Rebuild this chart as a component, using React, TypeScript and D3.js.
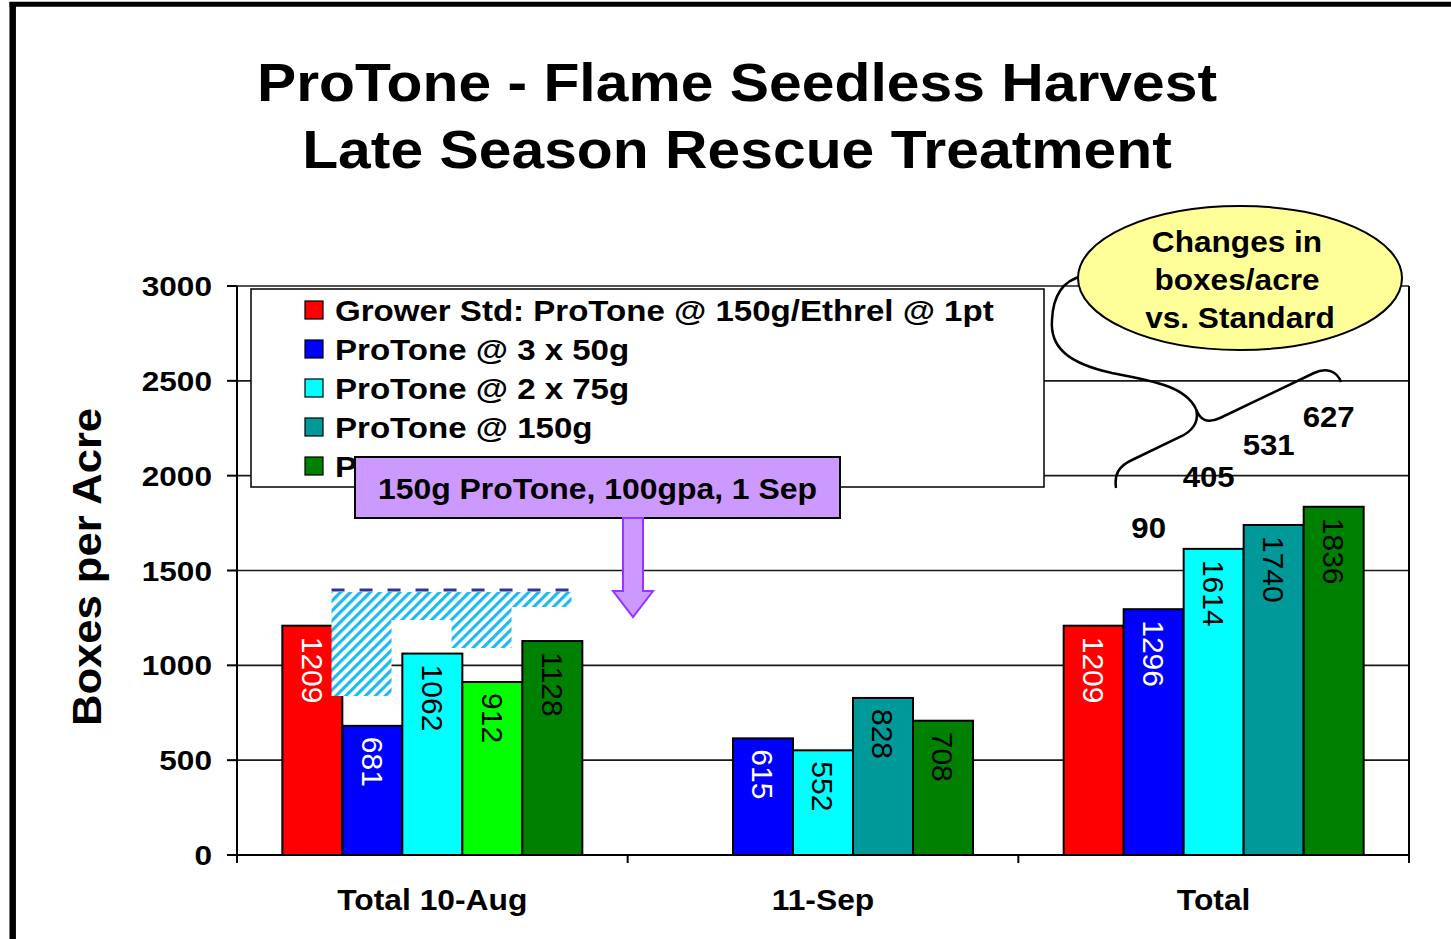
import * as d3 from "d3";

const categories = ["Total 10-Aug", "11-Sep", "Total"];
const seriesNames = [
  "Grower Std: ProTone @ 150g/Ethrel @ 1pt",
  "ProTone @ 3 x 50g",
  "ProTone @ 2 x 75g",
  "ProTone @ 150g",
  "ProTone @ 150 + 75g",
];
const seriesColors = ["#FF0000", "#0000FF", "#00FFFF", "#009999", "#008000"];
const labelColors = ["#FFFFFF", "#FFFFFF", "#000000", "#000000", "#000000"];

const growerStd = [1209, null, 1209];
const protone3x50 = [681, 615, 1296];
const protone2x75 = [1062, 552, 1614];
const protone150 = [912, 828, 1740];
const protone150plus75 = [1128, 708, 1836];
const seriesValues = [growerStd, protone3x50, protone2x75, protone150, protone150plus75];

// one point of the 150g series is coloured differently in the original
const pointColorOverride: Record<string, string> = { "3-0": "#00FF00" };

const yTicks = [0, 500, 1000, 1500, 2000, 2500, 3000];

// differences vs standard, shown above the "Total" group
const diffLabels = ["90", "405", "531", "627"];
const diffLabelY = [1671, 1940, 2109, 2257];

// hatched overlay in the first group (bottom value of each column)
const hatchTop = 1387;
const hatchDash = 1397;
const hatchBottoms = [838, 1239, 1091, 1308];

const FONT = "'Liberation Sans', Arial, Helvetica, sans-serif";

function SText(props: {
  x: number;
  y: number;
  k?: number;
  size: number;
  anchor?: string;
  weight?: string;
  fill?: string;
  children: string;
}) {
  const { x, y, k = 1.1, size, anchor = "middle", weight = "bold", fill = "#000" } = props;
  return (
    <text
      transform={`translate(${x},${y}) scale(${k},1)`}
      textAnchor={anchor}
      fontSize={size}
      fontWeight={weight}
      fill={fill}
    >
      {props.children}
    </text>
  );
}

export default function App() {
  const width = 1451;
  const height = 939;
  const plot = { left: 237, right: 1409, top: 286, bottom: 855 };

  const x0 = d3.scaleBand<string>().domain(categories).range([plot.left, plot.right]);
  const groupW = 300;
  const x1 = d3.scaleBand<string>().domain(seriesNames).range([0, groupW]);
  const y = d3.scaleLinear().domain([0, 3000]).range([plot.bottom, plot.top]);
  const bw = x1.bandwidth();
  const barX = (ci: number, si: number) =>
    (x0(categories[ci]) ?? 0) + (x0.bandwidth() - groupW) / 2 + (x1(seriesNames[si]) ?? 0);

  const bars: { key: string; x: number; y: number; h: number; v: number; fill: string; lc: string }[] = [];
  seriesValues.forEach((vals, si) => {
    vals.forEach((v, ci) => {
      if (v == null) return;
      bars.push({
        key: `${si}-${ci}`,
        x: barX(ci, si),
        y: y(v),
        h: y(0) - y(v),
        v,
        fill: pointColorOverride[`${si}-${ci}`] ?? seriesColors[si],
        lc: labelColors[si],
      });
    });
  });

  // hatch outline (step shape) over group 1, shifted slightly left of the bar slots
  const shift = bw * 0.18;
  const hx = hatchBottoms.map((_, j) => barX(0, j + 1) - shift);
  let hatchPath = `M${hx[0]},${y(hatchTop)} L${hx[3] + bw},${y(hatchTop)}`;
  for (let j = 3; j >= 0; j--) {
    hatchPath += ` L${hx[j] + bw},${y(hatchBottoms[j])} L${hx[j]},${y(hatchBottoms[j])}`;
  }
  hatchPath += " Z";

  const legend = { x: 251, y: 289, w: 793, h: 198, step: 39 };
  const callout = { x: 355, y: 457, w: 485, h: 61 };
  const arrowX = 633;
  const ellipse = { cx: 1240, cy: 278, rx: 162, ry: 72 };

  return (
    <svg
      width={width}
      height={height}
      style={{ position: "absolute", left: 0, top: 0, background: "#fff" }}
      fontFamily={FONT}
    >
      <defs>
        <pattern
          id="hatch"
          width={7}
          height={7}
          patternUnits="userSpaceOnUse"
          patternTransform="rotate(45)"
        >
          <rect width={7} height={7} fill="#fff" />
          <rect width={3.2} height={7} fill="#1EBBEE" />
        </pattern>
      </defs>

      {/* slide frame */}
      <line x1={12.7} y1={2} x2={12.7} y2={height} stroke="#000" strokeWidth={6.5} />
      <line x1={9.5} y1={4.2} x2={width} y2={4.2} stroke="#000" strokeWidth={5} />

      {/* title */}
      <SText x={737} y={101} size={53} k={1.11}>
        ProTone - Flame Seedless Harvest
      </SText>
      <SText x={737} y={168} size={53} k={1.11}>
        Late Season Rescue Treatment
      </SText>

      {/* gridlines */}
      {yTicks.map((t) => (
        <line
          key={t}
          x1={plot.left}
          x2={plot.right}
          y1={y(t)}
          y2={y(t)}
          stroke="#1a1a1a"
          strokeWidth={1.6}
        />
      ))}
      <line x1={plot.right} x2={plot.right} y1={plot.top} y2={plot.bottom} stroke="#000" strokeWidth={2} />

      {/* bars */}
      {bars.map((b) => (
        <rect
          key={b.key}
          x={b.x}
          y={b.y}
          width={bw}
          height={b.h}
          fill={b.fill}
          stroke="#000"
          strokeWidth={2}
        />
      ))}
      {bars.map((b) => (
        <text
          key={"l" + b.key}
          transform={`translate(${b.x + bw / 2 - 10.7},${b.y + 11}) rotate(90)`}
          fontSize={30}
          fill={b.lc}
        >
          {String(b.v)}
        </text>
      ))}

      {/* hatched overlay */}
      <path d={hatchPath} fill="url(#hatch)" />
      <line
        x1={hx[0]}
        x2={hx[3] + bw}
        y1={y(hatchDash)}
        y2={y(hatchDash)}
        stroke="#333399"
        strokeWidth={3}
        strokeDasharray="13 15"
      />

      {/* axes */}
      <line x1={plot.left} x2={plot.left} y1={plot.top} y2={plot.bottom + 8} stroke="#000" strokeWidth={2} />
      <line x1={plot.left} x2={plot.right} y1={plot.bottom} y2={plot.bottom} stroke="#000" strokeWidth={2} />
      {yTicks.map((t) => (
        <g key={"t" + t}>
          <line x1={plot.left - 10} x2={plot.left} y1={y(t)} y2={y(t)} stroke="#000" strokeWidth={2} />
          <SText x={212} y={y(t) + 10} size={27} k={1.17} anchor="end">
            {String(t)}
          </SText>
        </g>
      ))}
      {categories.map((c) => (
        <g key={c}>
          <line
            x1={(x0(c) ?? 0) + x0.bandwidth()}
            x2={(x0(c) ?? 0) + x0.bandwidth()}
            y1={plot.bottom}
            y2={plot.bottom + 8}
            stroke="#000"
            strokeWidth={2}
          />
          <SText x={(x0(c) ?? 0) + x0.bandwidth() / 2} y={910} size={30} k={1.06}>
            {c}
          </SText>
        </g>
      ))}

      {/* y axis title */}
      <text
        transform="translate(101,567) rotate(-90) scale(1.09,1)"
        textAnchor="middle"
        fontSize={40}
        fontWeight="bold"
      >
        Boxes per Acre
      </text>

      {/* legend */}
      <rect
        x={legend.x}
        y={legend.y}
        width={legend.w}
        height={legend.h}
        fill="#fff"
        stroke="#000"
        strokeWidth={1.5}
      />
      {seriesNames.map((s, i) => (
        <g key={s}>
          <rect
            x={305}
            y={legend.y + 12 + i * legend.step}
            width={18}
            height={18}
            fill={seriesColors[i]}
            stroke="#000"
            strokeWidth={1.2}
          />
          <SText x={335} y={legend.y + 32 + i * legend.step} size={29} k={1.14} anchor="start">
            {s}
          </SText>
        </g>
      ))}

      {/* callout box with arrow */}
      <rect
        x={callout.x}
        y={callout.y}
        width={callout.w}
        height={callout.h}
        fill="#CC99FF"
        stroke="#000"
        strokeWidth={2}
      />
      <SText x={callout.x + callout.w / 2} y={callout.y + 42} size={29} k={1.1}>
        150g ProTone, 100gpa, 1 Sep
      </SText>
      <path
        d={`M${arrowX - 10},${callout.y + callout.h} L${arrowX + 10},${callout.y + callout.h} L${arrowX + 10},591 L${arrowX + 20},591 L${arrowX},617 L${arrowX - 20},591 L${arrowX - 10},591 Z`}
        fill="#CC99FF"
        stroke="#9933FF"
        strokeWidth={2}
      />

      {/* brace and connector */}
      <path
        d="M1116,488 C1114,474 1119,466 1132,460 L1182,436 C1195,429 1199,420 1196,409 C1200,420 1207,424 1220,418 L1314,373 C1326,367 1337,371 1341,382"
        fill="none"
        stroke="#000"
        strokeWidth={2.5}
      />
      <path
        d="M1196,409 C1186,388 1160,382 1112,373 C1066,363 1050,346 1052,320 C1053,296 1062,281 1082,276"
        fill="none"
        stroke="#000"
        strokeWidth={2.5}
      />

      {/* ellipse note */}
      <ellipse
        cx={ellipse.cx}
        cy={ellipse.cy}
        rx={ellipse.rx}
        ry={ellipse.ry}
        fill="#FFFF99"
        stroke="#000"
        strokeWidth={2}
      />
      <SText x={1237} y={252} size={29} k={1.09}>
        Changes in
      </SText>
      <SText x={1237} y={290} size={29} k={1.09}>
        boxes/acre
      </SText>
      <SText x={1240} y={328} size={29} k={1.09}>
        vs. Standard
      </SText>

      {/* diff labels */}
      {diffLabels.map((d, i) => (
        <SText key={d} x={barX(2, i + 1) + bw / 2 - 5} y={y(diffLabelY[i])} size={30} k={1.04}>
          {d}
        </SText>
      ))}
    </svg>
  );
}
